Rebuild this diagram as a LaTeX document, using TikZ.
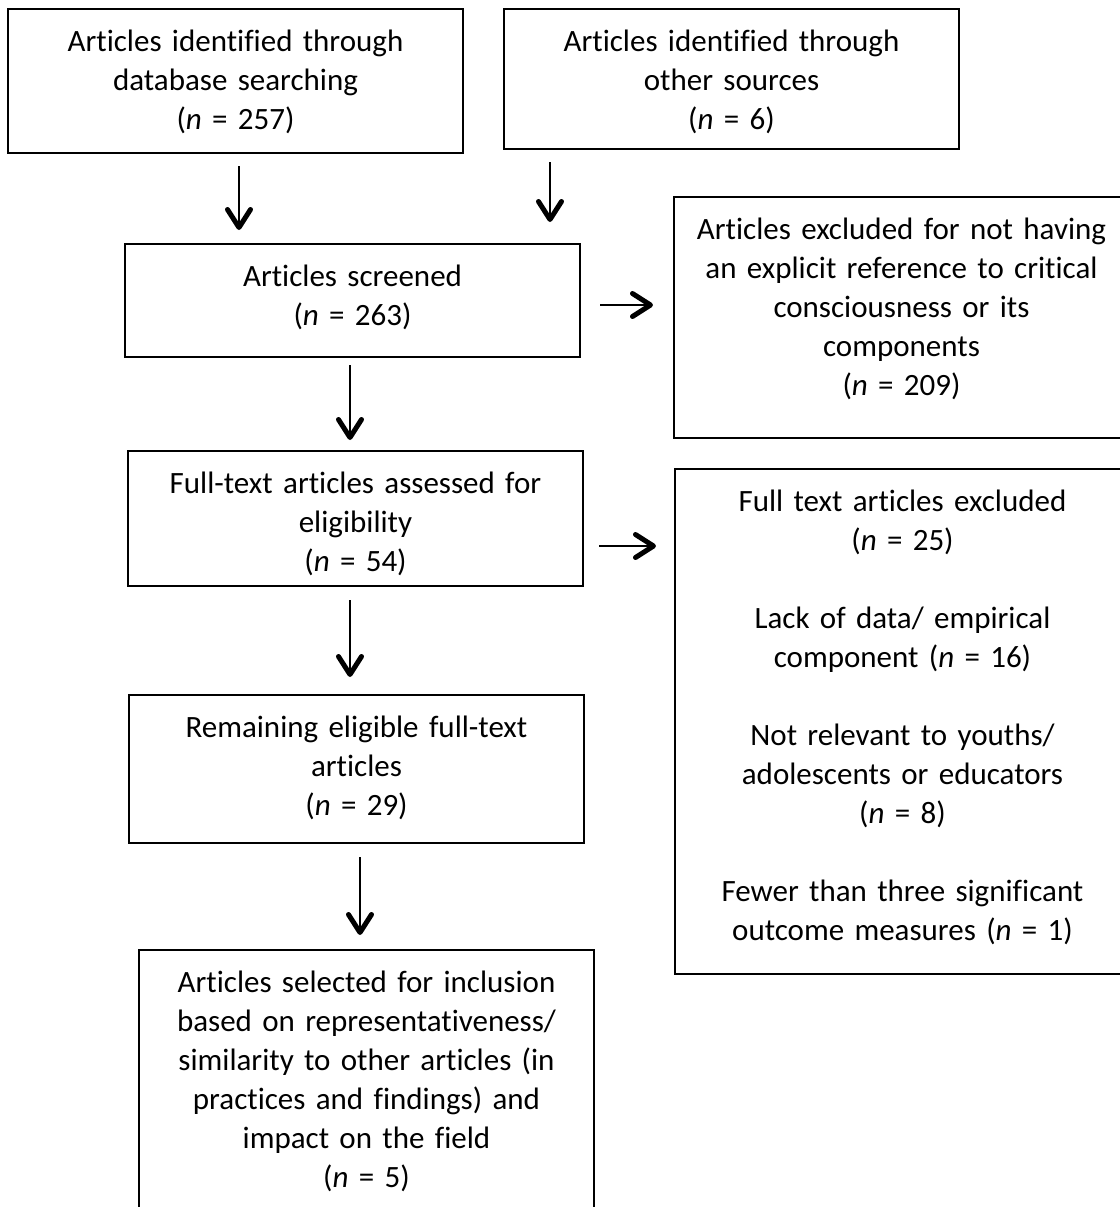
\documentclass[tikz,border=0pt]{standalone}
\usepackage{fontspec}
\setmainfont{Carlito}[Ligatures=NoCommon]
\usepackage{tikz}
\usetikzlibrary{arrows.meta}

\begin{document}
\begin{tikzpicture}[x=0.5pt, y=-0.5pt,
	box/.style={draw, line width=1.2pt, rectangle, anchor=north west, inner sep=0pt, outer sep=0pt, text width=227.5pt, align=center, text height=21pt, font=\fontsize{15.5pt}{19.5pt}\selectfont},
	arr/.style={line width=1pt, -{Straight Barb[length=9pt, width=11.5pt, line width=2.5pt, round]}}]
	\useasboundingbox (0,0) rectangle (1120,1207);
	\node[box, text depth=51pt] (Database) at (8, 9) {Articles identified through\\ database searching\\ (\textit{n} = 257)};
	\node[box, text depth=49pt] (Other) at (504, 9) {Articles identified through\\ other sources\\ (\textit{n} = 6)};
	\node[box, text depth=35.5pt] (Screened) at (125, 244) {Articles screened\\ (\textit{n} = 263)};
	\node[box, text depth=99.5pt] (Excluded) at (674, 197) {Articles excluded for not having\\ an explicit reference to critical\\ consciousness or its\\ components\\ (\textit{n} = 209)};
	\node[box, text depth=46.5pt] (Assessed) at (128, 451) {Full-text articles assessed for\\ eligibility\\ (\textit{n} = 54)};
	\node[box, text depth=231.5pt] (FullExcluded) at (675, 469) {Full text articles excluded\\ (\textit{n} = 25)\\[19.5pt] Lack of data/ empirical\\ component (\textit{n} = 16)\\[19.5pt] Not relevant to youths/\\ adolescents or educators\\ (\textit{n} = 8)\\[19.5pt] Fewer than three significant\\ outcome measures (\textit{n} = 1)};
	\node[box, text depth=53pt] (Remaining) at (129, 695) {Remaining eligible full-text\\ articles\\ (\textit{n} = 29)};
	\node[box, text depth=110pt] (Selected) at (139, 950) {Articles selected for inclusion\\ based on representativeness/\\ similarity to other articles (in\\ practices and findings) and\\ impact on the field\\ (\textit{n} = 5)};
	\draw[arr, shorten <=6.5pt, shorten >=7pt] ([xshift=1.75pt]Database.south) -- ([xshift=1.75pt]Database.south |- Screened.north);
	\draw[arr, shorten <=6.5pt, shorten >=11pt] ([xshift=23pt]Other.south west) -- ([xshift=23pt]Other.south west |- Screened.north);
	\draw[arr, shorten <=10pt, shorten >=10.5pt] ([yshift=-2.25pt]Screened.east) -- ([yshift=-2.25pt]Screened.east -| Excluded.west);
	\draw[arr, shorten <=4pt, shorten >=5.5pt] ([xshift=-1.25pt]Screened.south) -- ([xshift=-1.25pt]Screened.south |- Assessed.north);
	\draw[arr, shorten <=8pt, shorten >=9.5pt] ([yshift=-13.75pt]Assessed.east) -- ([yshift=-13.75pt]Assessed.east -| FullExcluded.west);
	\draw[arr, shorten <=7pt, shorten >=9pt] ([xshift=-2.75pt]Assessed.south) -- ([xshift=-2.75pt]Assessed.south |- Remaining.north);
	\draw[arr, shorten <=7pt, shorten >=7.5pt] ([xshift=1.75pt]Remaining.south) -- ([xshift=1.75pt]Remaining.south |- Selected.north);
\end{tikzpicture}
\end{document}
